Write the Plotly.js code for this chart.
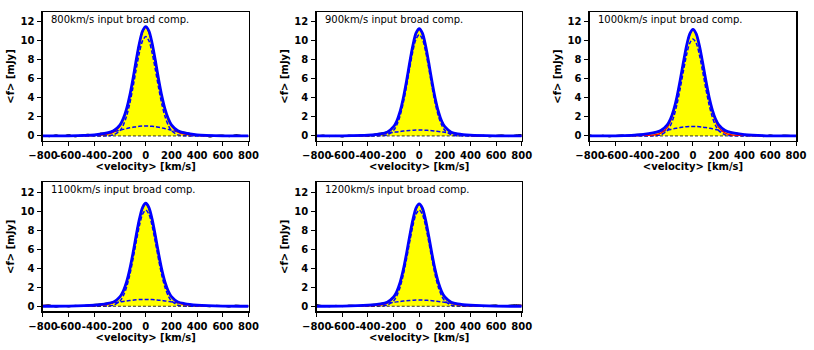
<!DOCTYPE html>
<html>
<head>
<meta charset="utf-8">
<script src="https://cdn.plot.ly/plotly-3.0.1.min.js"></script>
<style>
  html, body { margin: 0; padding: 0; background: #fff; }
  #chart { width: 814px; height: 350px; }
</style>
</head>
<body>
<div id="chart"></div>
<script>
// ---- data ----
const WIDTHS = [800, 900, 1000, 1100, 1200];
const PANEL_LABELS = WIDTHS.map(w => `${w}km/s input broad comp.`);
const X_TICKS = [-800, -600, -400, -200, 0, 200, 400, 600, 800];
const X_TICK_TEXT = ["\u2212800", "-600", "-400", "-200", "0", "200", "400", "600", "800"];
const Y_TICKS = [0, 2, 4, 6, 8, 10, 12];

// velocity grid for the fitted curves
const VEL = [-800, -600, -400, -300, -250, -200, -175, -150, -125, -100, -75, -50, -25, 0,
             25, 50, 75, 100, 125, 150, 175, 200, 250, 300, 400, 600, 800];
// velocity grid for the observed spectrum
const DATA_VEL = [-800, -750, -700, -650, -600, -550, -500, -450, -400, -350, -300, -250, -200, -150, -100, -50, 0,
                  50, 100, 150, 200, 250, 300, 350, 400, 450, 500, 550, 600, 650, 700, 750, 800];
const ZERO_VEL = [-800, 800];
const ZERO_COMP = [0, 0];

// 800 km/s
const TOTAL_800  = [0.00, 0.01, 0.11, 0.32, 0.55, 1.17, 1.82, 2.81, 4.21, 5.97, 7.92, 9.72, 11.03, 11.50, 11.03, 9.72, 7.92, 5.97, 4.21, 2.81, 1.82, 1.17, 0.55, 0.32, 0.11, 0.01, 0.00];
const NARROW_800 = [0.00, 0.00, 0.00, 0.02, 0.11, 0.57, 1.13, 2.04, 3.36, 5.06, 6.95, 8.71, 9.99, 10.45, 9.99, 8.71, 6.95, 5.06, 3.36, 2.04, 1.13, 0.57, 0.11, 0.02, 0.00, 0.00, 0.00];
const BROAD_800  = [0.00, 0.01, 0.11, 0.30, 0.44, 0.60, 0.69, 0.77, 0.85, 0.91, 0.97, 1.01, 1.04, 1.05, 1.04, 1.01, 0.97, 0.91, 0.85, 0.77, 0.69, 0.60, 0.44, 0.30, 0.11, 0.01, 0.00];
const MODEL_800  = [0.02, 0.01, 0.05, 0.18, 0.40, 1.02, 1.72, 2.75, 4.18, 5.98, 7.95, 9.70, 10.95, 11.38, 10.95, 9.70, 7.95, 5.98, 4.18, 2.75, 1.72, 1.02, 0.40, 0.18, 0.05, 0.01, 0.02];
const FLUX_800   = [0.05, -0.08, 0.12, -0.05, 0.15, -0.10, 0.08, 0.18, 0.05, 0.30, 0.28, 0.62, 1.10, 2.90, 5.92, 9.80, 11.45,
                    9.65, 6.05, 2.75, 1.22, 0.50, 0.40, 0.25, 0.02, 0.08, -0.12, 0.05, 0.10, -0.08, 0.14, 0.03, -0.06];

// 900 km/s
const TOTAL_900  = [0.00, 0.01, 0.08, 0.22, 0.40, 0.97, 1.57, 2.55, 3.94, 5.70, 7.66, 9.48, 10.80, 11.27, 10.80, 9.48, 7.66, 5.70, 3.94, 2.55, 1.57, 0.97, 0.40, 0.22, 0.08, 0.01, 0.00];
const NARROW_900 = [0.00, 0.00, 0.00, 0.02, 0.12, 0.59, 1.15, 2.08, 3.43, 5.15, 7.08, 8.88, 10.18, 10.65, 10.18, 8.88, 7.08, 5.15, 3.43, 2.08, 1.15, 0.59, 0.12, 0.02, 0.00, 0.00, 0.00];
const BROAD_900  = [0.00, 0.01, 0.08, 0.20, 0.28, 0.38, 0.42, 0.47, 0.51, 0.55, 0.58, 0.60, 0.62, 0.62, 0.62, 0.60, 0.58, 0.55, 0.51, 0.47, 0.42, 0.38, 0.28, 0.20, 0.08, 0.01, 0.00];
const MODEL_900  = [0.02, 0.01, 0.04, 0.15, 0.35, 0.92, 1.52, 2.52, 3.92, 5.70, 7.68, 9.45, 10.72, 11.18, 10.72, 9.45, 7.68, 5.70, 3.92, 2.52, 1.52, 0.92, 0.35, 0.15, 0.04, 0.01, 0.02];
const FLUX_900   = [-0.05, 0.10, -0.08, 0.06, -0.12, 0.09, 0.02, 0.12, -0.06, 0.20, 0.30, 0.45, 0.95, 2.60, 5.65, 9.55, 11.30,
                    9.40, 5.75, 2.50, 1.00, 0.35, 0.25, 0.10, 0.12, -0.05, 0.08, -0.10, 0.06, 0.11, -0.07, 0.10, 0.15];

// 1000 km/s
const TOTAL_1000  = [0.00, 0.01, 0.14, 0.35, 0.57, 1.17, 1.78, 2.75, 4.10, 5.82, 7.71, 9.48, 10.74, 11.20, 10.74, 9.48, 7.71, 5.82, 4.10, 2.75, 1.78, 1.17, 0.57, 0.35, 0.14, 0.01, 0.00];
const NARROW_1000 = [0.00, 0.00, 0.00, 0.02, 0.11, 0.56, 1.10, 1.99, 3.28, 4.94, 6.78, 8.51, 9.75, 10.20, 9.75, 8.51, 6.78, 4.94, 3.28, 1.99, 1.10, 0.56, 0.11, 0.02, 0.00, 0.00, 0.00];
const BROAD_1000  = [0.00, 0.01, 0.14, 0.33, 0.46, 0.61, 0.68, 0.76, 0.82, 0.88, 0.93, 0.97, 0.99, 1.00, 0.99, 0.97, 0.93, 0.88, 0.82, 0.76, 0.68, 0.61, 0.46, 0.33, 0.14, 0.01, 0.00];
const MODEL_1000  = [0.02, 0.01, 0.05, 0.12, 0.30, 0.88, 1.55, 2.58, 4.00, 5.80, 7.75, 9.50, 10.72, 11.15, 10.72, 9.50, 7.75, 5.80, 4.00, 2.58, 1.55, 0.88, 0.30, 0.12, 0.05, 0.01, 0.02];
const FLUX_1000   = [0.12, -0.06, 0.08, -0.10, 0.05, 0.10, -0.04, 0.15, 0.18, 0.20, 0.40, 0.60, 1.15, 2.80, 5.85, 9.45, 11.25,
                     9.52, 5.78, 2.72, 1.20, 0.52, 0.38, 0.28, 0.10, 0.15, 0.02, -0.08, 0.12, -0.05, 0.09, 0.06, -0.04];

// 1100 km/s
const TOTAL_1100  = [0.00, 0.01, 0.12, 0.28, 0.46, 1.02, 1.60, 2.53, 3.85, 5.53, 7.40, 9.12, 10.37, 10.82, 10.37, 9.12, 7.40, 5.53, 3.85, 2.53, 1.60, 1.02, 0.46, 0.28, 0.12, 0.01, 0.00];
const NARROW_1100 = [0.00, 0.00, 0.00, 0.02, 0.11, 0.56, 1.09, 1.97, 3.25, 4.89, 6.72, 8.42, 9.66, 10.10, 9.66, 8.42, 6.72, 4.89, 3.25, 1.97, 1.09, 0.56, 0.11, 0.02, 0.00, 0.00, 0.00];
const BROAD_1100  = [0.00, 0.01, 0.12, 0.26, 0.35, 0.46, 0.51, 0.56, 0.60, 0.64, 0.68, 0.70, 0.71, 0.72, 0.71, 0.70, 0.68, 0.64, 0.60, 0.56, 0.51, 0.46, 0.35, 0.26, 0.12, 0.01, 0.00];
const MODEL_1100  = [0.10, 0.02, 0.06, 0.16, 0.36, 0.96, 1.56, 2.50, 3.85, 5.55, 7.42, 9.10, 10.30, 10.72, 10.30, 9.10, 7.42, 5.55, 3.85, 2.50, 1.56, 0.96, 0.36, 0.16, 0.06, 0.02, 0.08];
const FLUX_1100   = [0.08, 0.15, -0.10, 0.05, -0.08, 0.10, 0.04, 0.12, 0.20, 0.25, 0.35, 0.50, 1.05, 2.55, 5.50, 9.20, 10.80,
                     9.05, 5.60, 2.48, 0.98, 0.42, 0.26, 0.15, 0.14, 0.02, -0.06, 0.10, 0.04, -0.09, 0.12, 0.05, 0.02];

// 1200 km/s
const TOTAL_1200  = [0.00, 0.01, 0.11, 0.25, 0.43, 0.97, 1.55, 2.47, 3.79, 5.47, 7.33, 9.05, 10.31, 10.75, 10.31, 9.05, 7.33, 5.47, 3.79, 2.47, 1.55, 0.97, 0.43, 0.25, 0.11, 0.01, 0.00];
const NARROW_1200 = [0.00, 0.00, 0.00, 0.02, 0.11, 0.56, 1.09, 1.97, 3.25, 4.89, 6.72, 8.42, 9.66, 10.10, 9.66, 8.42, 6.72, 4.89, 3.25, 1.97, 1.09, 0.56, 0.11, 0.02, 0.00, 0.00, 0.00];
const BROAD_1200  = [0.00, 0.01, 0.11, 0.23, 0.32, 0.41, 0.46, 0.50, 0.54, 0.58, 0.61, 0.63, 0.65, 0.65, 0.65, 0.63, 0.61, 0.58, 0.54, 0.50, 0.46, 0.41, 0.32, 0.23, 0.11, 0.01, 0.00];
const MODEL_1200  = [0.06, 0.01, 0.05, 0.14, 0.33, 0.92, 1.50, 2.44, 3.78, 5.48, 7.35, 9.02, 10.25, 10.66, 10.25, 9.02, 7.35, 5.48, 3.78, 2.44, 1.50, 0.92, 0.33, 0.14, 0.05, 0.01, 0.10];
const FLUX_1200   = [0.18, 0.05, -0.06, 0.10, -0.04, 0.12, 0.08, 0.02, 0.15, 0.22, 0.30, 0.45, 1.00, 2.45, 5.42, 9.10, 10.72,
                     9.00, 5.50, 2.50, 0.95, 0.40, 0.22, 0.18, 0.05, 0.12, -0.05, 0.08, 0.14, -0.03, 0.10, 0.16, 0.12];

const PANELS = [
  { total: TOTAL_800,  narrow: NARROW_800,  broad: BROAD_800,  model: MODEL_800,  flux: FLUX_800 },
  { total: TOTAL_900,  narrow: NARROW_900,  broad: BROAD_900,  model: MODEL_900,  flux: FLUX_900 },
  { total: TOTAL_1000, narrow: NARROW_1000, broad: BROAD_1000, model: MODEL_1000, flux: FLUX_1000 },
  { total: TOTAL_1100, narrow: NARROW_1100, broad: BROAD_1100, model: MODEL_1100, flux: FLUX_1100 },
  { total: TOTAL_1200, narrow: NARROW_1200, broad: BROAD_1200, model: MODEL_1200, flux: FLUX_1200 },
];

// ---- layout helpers ----
const FONT = { family: "DejaVu Sans, sans-serif", color: "#000", size: 10 };
const BOLD = { ...FONT, weight: "bold" };
const COL_DOMAINS = [[0.0528, 0.3053], [0.3891, 0.6409], [0.7248, 0.9779]];
const ROW_DOMAINS = [[0.598, 0.9649], [0.1114, 0.4786]];

function axisBase() {
  return {
    showline: true, mirror: true, linecolor: "#000", linewidth: 1.5,
    ticks: "outside", ticklen: 4, tickwidth: 1, tickcolor: "#000",
    showgrid: false, zeroline: false, tickfont: BOLD, tickangle: 0,
    ticklabelstandoff: 1,
  };
}

const traces = [];
const layout = {
  width: 814, height: 350,
  margin: { l: 0, r: 0, t: 0, b: 0 },
  paper_bgcolor: "#fff", plot_bgcolor: "#fff",
  font: FONT, showlegend: false, hovermode: false,
  annotations: [],
};

PANELS.forEach((p, i) => {
  const n = i + 1;
  const xa = "x" + (n === 1 ? "" : n);
  const ya = "y" + (n === 1 ? "" : n);
  const col = i % 3, row = Math.floor(i / 3);
  const spline = { shape: "spline", smoothing: 0.8 };

  traces.push(
    { x: VEL, y: p.total, xaxis: xa, yaxis: ya, mode: "lines", fill: "tozeroy",
      fillcolor: "#ffff00", line: { width: 0, ...spline } },
    { x: DATA_VEL, y: p.flux, xaxis: xa, yaxis: ya, mode: "lines",
      line: { color: "#000", width: 1, ...spline } },
    { x: VEL, y: p.narrow, xaxis: xa, yaxis: ya, mode: "lines",
      line: { color: "#0000ff", width: 1.5, dash: "4px,2px", ...spline } },
    { x: VEL, y: p.broad, xaxis: xa, yaxis: ya, mode: "lines",
      line: { color: "#0000ff", width: 1.5, dash: "4px,2px", ...spline } },
    { x: ZERO_VEL, y: ZERO_COMP, xaxis: xa, yaxis: ya, mode: "lines",
      line: { color: "#333", width: 1, dash: "3px,2px" } },
    { x: VEL, y: p.model, xaxis: xa, yaxis: ya, mode: "lines",
      line: { color: "#ff0000", width: 1.2, ...spline } },
    { x: VEL, y: p.total, xaxis: xa, yaxis: ya, mode: "lines",
      line: { color: "#0000ff", width: 2.8, ...spline } },
  );

  layout["xaxis" + (n === 1 ? "" : n)] = {
    ...axisBase(), domain: COL_DOMAINS[col], anchor: ya,
    range: [-800, 800], tickvals: X_TICKS, ticktext: X_TICK_TEXT,
    title: { text: "<velocity> [km/s]", font: BOLD, standoff: 2 },
  };
  layout["yaxis" + (n === 1 ? "" : n)] = {
    ...axisBase(), domain: ROW_DOMAINS[row], anchor: xa,
    range: [-0.5, 13], tickvals: Y_TICKS,
    title: { text: "<f> [mJy]", font: BOLD, standoff: 4 },
  };
  layout.annotations.push({
    text: PANEL_LABELS[i], font: FONT, showarrow: false,
    xref: xa + " domain", yref: ya + " domain",
    x: 0.03, y: 1.0, xanchor: "left", yanchor: "top",
  });
});

Plotly.newPlot("chart", traces, layout, { displayModeBar: false, staticPlot: true });
</script>
</body>
</html>
